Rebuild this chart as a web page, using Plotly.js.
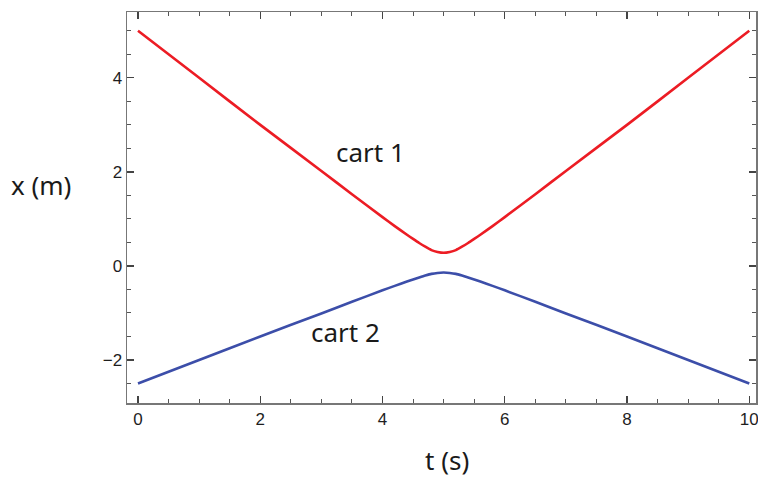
<!DOCTYPE html>
<html>
<head>
<meta charset="utf-8">
<script src="https://cdn.plot.ly/plotly-3.0.1.min.js"></script>
<style>
  html, body { margin: 0; padding: 0; background: #fff; }
  #plot { width: 758px; height: 477px; }
</style>
</head>
<body>
<div id="plot"></div>
<script>
// time (s)
var t = [0, 1, 2, 3, 3.5, 4, 4.2, 4.4, 4.5, 4.6, 4.7, 4.8, 4.9, 5, 5.1, 5.2, 5.3, 5.4, 5.5, 5.6, 5.8, 6, 6.5, 7, 8, 9, 10];

// positions (m)
var cart1 = [5, 4, 3, 2.02, 1.526, 1.038, 0.847, 0.662, 0.574, 0.488, 0.408, 0.337, 0.297, 0.279,
             0.297, 0.337, 0.408, 0.488, 0.574, 0.662, 0.847, 1.038, 1.526, 2.02, 3, 4, 5];
var cart2 = [-2.5, -2, -1.5, -1.01, -0.763, -0.519, -0.424, -0.331, -0.287, -0.244, -0.204, -0.169, -0.149, -0.14,
             -0.149, -0.169, -0.204, -0.244, -0.287, -0.331, -0.424, -0.519, -0.763, -1.01, -1.5, -2, -2.5];

var labels = ['cart 1', 'cart 2'];
var labelT = [3.8, 3.4];
var labelX = [2.43, -1.4];

var PLOT = document.getElementById('plot');

var trace1 = {
  x: t, y: cart1,
  xaxis: 'x2', yaxis: 'y2',
  mode: 'lines',
  line: {color: '#ec1c24', width: 2.6, shape: 'spline', smoothing: 0.5},
  hoverinfo: 'skip'
};

var trace2 = {
  x: t, y: cart2,
  xaxis: 'x2', yaxis: 'y2',
  mode: 'lines',
  line: {color: '#3c4ea9', width: 2.6, shape: 'spline', smoothing: 0.5},
  hoverinfo: 'skip'
};

var xr = [-0.18, 10.11];
var yr = [-2.915, 5.40];
var bigFont = {family: 'Noto Sans, sans-serif', size: 26, color: '#1a1a1a'};

// base axes: grid only
var gridAxis = {
  showgrid: true, gridcolor: '#d9d9d9', gridwidth: 1,
  ticks: '', showticklabels: false, showline: false, tick0: 0, dtick: 1
};

// overlay axes: frame, ticks, labels
function frameAxis() {
  return {
    showgrid: false, zeroline: false,
    showline: true, linecolor: '#777', linewidth: 1.5, mirror: 'allticks',
    ticks: 'inside', ticklen: 7, tickwidth: 1.3, tickcolor: '#444',
    tick0: 0, dtick: 2, ticklabeloverflow: 'allow',
    tickfont: {family: 'Liberation Sans, Arial, sans-serif', size: 17, color: '#1e1e1e'},
    minor: {ticks: 'inside', ticklen: 4, tickwidth: 1, tickcolor: '#555', dtick: 0.5, showgrid: false}
  };
}

var annotations = labels.map(function (s, i) {
  return {text: s, x: labelT[i], y: labelX[i], xref: 'x2', yref: 'y2',
          xanchor: 'center', yanchor: 'middle', showarrow: false, font: bigFont};
});
annotations.push({text: 'x (m)', x: -0.137, y: 0.557, xref: 'paper', yref: 'paper',
                  xanchor: 'center', yanchor: 'middle', showarrow: false, font: bigFont});
annotations.push({text: 't (s)', x: 0.509, y: -0.146, xref: 'paper', yref: 'paper',
                  xanchor: 'center', yanchor: 'middle', showarrow: false, font: bigFont});

var layout = {
  width: 758, height: 477,
  margin: {l: 127, r: 2, t: 12, b: 74},
  paper_bgcolor: '#fff', plot_bgcolor: '#fff',
  showlegend: false,
  xaxis: Object.assign({}, gridAxis, {range: xr, zeroline: false}),
  yaxis: Object.assign({}, gridAxis, {range: yr, zeroline: true, zerolinecolor: '#000', zerolinewidth: 1}),
  xaxis2: Object.assign(frameAxis(), {range: xr, overlaying: 'x', anchor: 'y2', side: 'bottom'}),
  yaxis2: Object.assign(frameAxis(), {range: yr, overlaying: 'y', anchor: 'x2', side: 'left'}),
  annotations: annotations
};

Plotly.newPlot(PLOT, [trace1, trace2], layout, {staticPlot: true});
</script>
</body>
</html>
